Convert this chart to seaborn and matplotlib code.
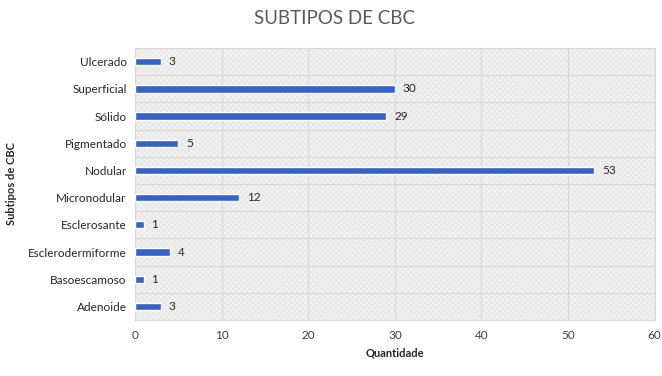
import matplotlib
matplotlib.use("Agg")
import matplotlib.pyplot as plt
import seaborn as sns
import pandas as pd
from matplotlib.patches import Rectangle

categories = ["Ulcerado", "Superficial", "Sólido", "Pigmentado", "Nodular",
              "Micronodular", "Esclerosante", "Esclerodermiforme", "Basoescamoso", "Adenoide"]
values = [3, 30, 29, 5, 53, 12, 1, 4, 1, 3]
xticks = [0, 10, 20, 30, 40, 50, 60]

sns.set_theme(style="white")
plt.rcParams['font.family'] = ['Lato', 'DejaVu Sans']
plt.rcParams['hatch.color'] = '#e0e0e0'
plt.rcParams['hatch.linewidth'] = 0.4

df = pd.DataFrame({"cat": categories, "val": values})

fig = plt.figure(figsize=(6.62, 3.76), dpi=100)
ax = fig.add_axes([0.204, 0.149, 0.785, 0.723])
ax.set_facecolor('#f2f2f2')
ax.add_patch(Rectangle((0, 0), 1, 1, transform=ax.transAxes, facecolor='none',
                       edgecolor='#e0e0e0', hatch='xxxxxx', linewidth=0, zorder=0))

sns.barplot(data=df, x="val", y="cat", orient="h", color="#3563c9", width=0.27,
            ax=ax, zorder=3, saturation=1)

ax.set_xlim(0, 60)
ax.set_ylim(len(categories) - 0.5, -0.5)
ax.set_xticks(xticks)
ax.set_xticklabels([str(t) for t in xticks], fontsize=8.5, color='#404040')
ax.set_yticks(range(len(categories)))
ax.set_yticklabels(categories, fontsize=8.5, color='#262626')
ax.set_yticks([i + 0.5 for i in range(-1, len(categories))], minor=True)
ax.tick_params(axis='both', which='both', length=0)
ax.tick_params(axis='y', pad=6)
ax.tick_params(axis='x', pad=7)
ax.grid(True, axis='x', which='major', color='#d8d8d8', linewidth=0.8, zorder=1)
ax.grid(True, axis='y', which='minor', color='#d8d8d8', linewidth=0.8, zorder=1)
ax.set_axisbelow(True)
for s in ax.spines.values():
    s.set_color('#d8d8d8')
    s.set_linewidth(0.8)

for i, v in enumerate(values):
    ax.text(v + 0.9, i, str(v), va='center', ha='left', fontsize=8.5, color='#262626', zorder=4)

ax.set_xlabel("Quantidade", fontsize=8, fontweight='bold', color='#262626', labelpad=5)
ax.set_ylabel("Subtipos de CBC", fontsize=8, fontweight='bold', color='#262626', labelpad=8)
fig.text(0.506, 0.95, "SUBTIPOS DE CBC", ha='center', va='center', fontsize=13.5, color='#595959')

fig.savefig("out.png", dpi=100)
